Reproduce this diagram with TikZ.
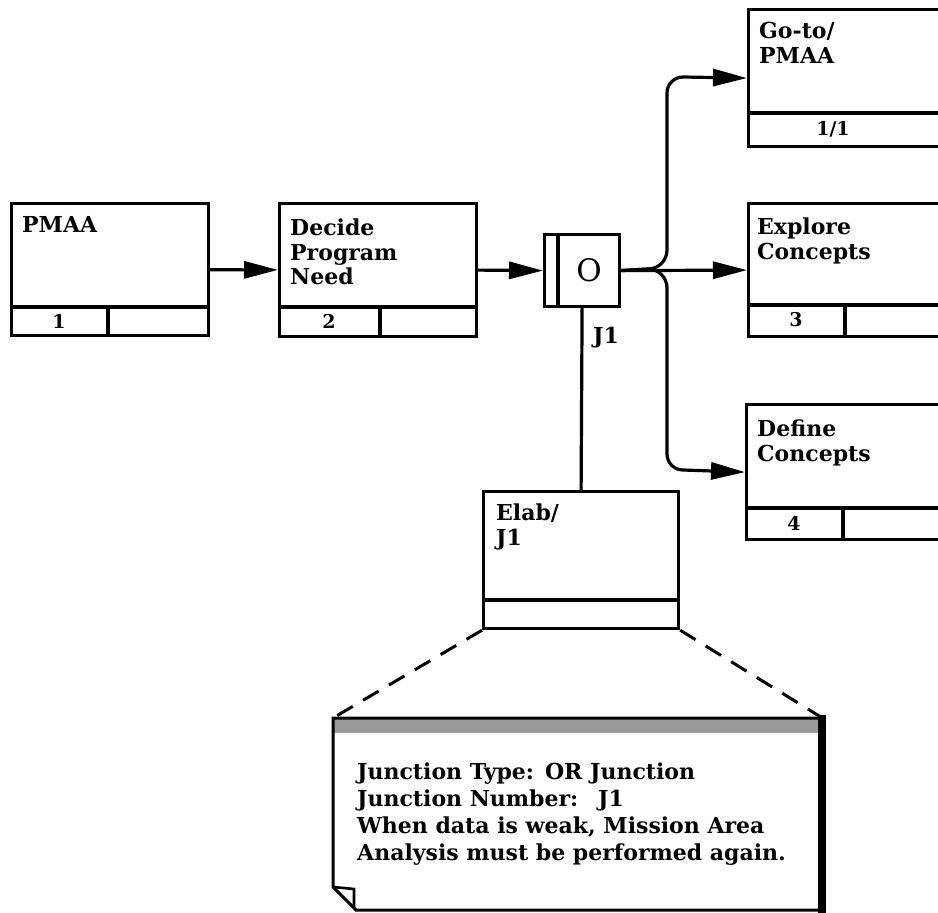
\documentclass[tikz,border=0pt]{standalone}
\usepackage{fontspec}
\setmainfont{DejaVu Serif}
\usetikzlibrary{arrows.meta}
\begin{document}
\begin{tikzpicture}[x=1pt,y=-1pt,
  actbox/.style={draw,line width=3.2pt,inner sep=0pt,anchor=north west},
  boxline/.style={line width=3.2pt},
  lbl/.style={font=\fontsize{22}{24.5}\selectfont\bfseries,align=left,anchor=north west,inner sep=0pt},
  num/.style={font=\fontsize{19}{20}\selectfont\bfseries,inner sep=0pt},
  conn/.style={line width=3.2pt},
  arr/.style={conn,-{Triangle[length=34pt,width=17pt]}},
  dashconn/.style={line width=3pt,dash pattern=on 18pt off 12pt},
  notetxt/.style={font=\fontsize{22}{27}\selectfont\bfseries,align=left,anchor=north west,inner sep=0pt}
]
\useasboundingbox (0,0) rectangle (938,913);
\clip (0,0) rectangle (938,913);

% PMAA
\node[actbox,minimum width=197pt,minimum height=132pt] (pmaa) at (10,202) {};
\draw[boxline] (10,307) -- (207,307) (108,307) -- (108,334);
\node[lbl] (pmaat) at (22,216) {PMAA};
\node[num] (pmaan) at (59,321) {1};

% Decide Program Need
\node[actbox,minimum width=197pt,minimum height=133pt] (decide) at (278,202) {};
\draw[boxline] (278,307) -- (475,307) (380,307) -- (380,335);
\node[lbl] (decidet) at (290,219) {Decide\\Program\\Need};
\node[num] (deciden) at (329,321) {2};

% Junction
\node[actbox,minimum width=75pt,minimum height=72pt] (junc) at (543,233) {};
\draw[boxline] (558,233) -- (558,305);
\node[font=\fontsize{31}{31}\selectfont,inner sep=0pt] (juncO) at (589,270) {O};
\node[font=\fontsize{22}{24}\selectfont\bfseries,inner sep=0pt] (j1) at (606,338) {J1};

% Go-to / PMAA
\node[actbox,minimum width=230pt,minimum height=137pt] (goto) at (747,8) {};
\draw[boxline] (747,113) -- (977,113);
\node[lbl] (gotot) at (759,22) {Go-to/\\PMAA};
\node[num] (goton) at (833,129) {1/1};

% Explore Concepts
\node[actbox,minimum width=230pt,minimum height=133pt] (explore) at (747,202) {};
\draw[boxline] (747,305) -- (977,305) (845,305) -- (845,335);
\node[lbl] (exploret) at (757,218) {Explore\\Concepts};
\node[num] (exploren) at (796,320) {3};

% Define Concepts
\node[actbox,minimum width=230pt,minimum height=135pt] (define) at (745,403) {};
\draw[boxline] (745,508) -- (975,508) (843,508) -- (843,538);
\node[lbl] (definet) at (757,420) {Define\\Concepts};
\node[num] (definen) at (794,523) {4};

% Elab / J1
\node[actbox,minimum width=195pt,minimum height=137pt] (elab) at (482,490) {};
\draw[boxline] (482,600) -- (677,600);
\node[lbl] (elabt) at (496,504) {Elab/\\J1};

% connectors
\draw[arr] (pmaa) -- (decide);
\draw[arr] (decide.east) -- (junc.west);
\draw[arr] (junc.east) -- (explore.west);
\draw[arr] (junc.east) -- (648,269) to[out=0,in=-90] (667,250) -- (667,93) to[out=90,in=180] (683,77) -- (goto.west);
\draw[arr] (junc.east) -- (648,269) to[out=0,in=90] (667,288) -- (667,454) to[out=-90,in=180] (683,470) -- (define.west);
\draw[conn] (junc.south) -- (elab.north);

% note
\node[inner sep=0pt,minimum width=489pt,minimum height=192pt,anchor=north west] (note) at (333,718) {};
\fill[black!40] (333,718) rectangle (822,733);
\draw[line width=3pt,line join=miter] (note.north east) -- (note.north west) -- (333,887) -- (356,910) -- (822,910);
\draw[line width=2.6pt] (333,887) -- (354,889) -- (354,908);
\draw[line width=8pt] (822,715) -- (822,913);
\draw[dashconn] (elab.south west) -- (note.north west);
\draw[dashconn] (elab.south east) -- (note.north east);
\node[notetxt] (notet) at (357,763) {Junction Type:\hspace{0.5em}OR Junction\\
Junction Number:\hspace{0.9em}J1\\
When data is weak, Mission Area\\
Analysis must be performed again.};
\end{tikzpicture}
\end{document}
